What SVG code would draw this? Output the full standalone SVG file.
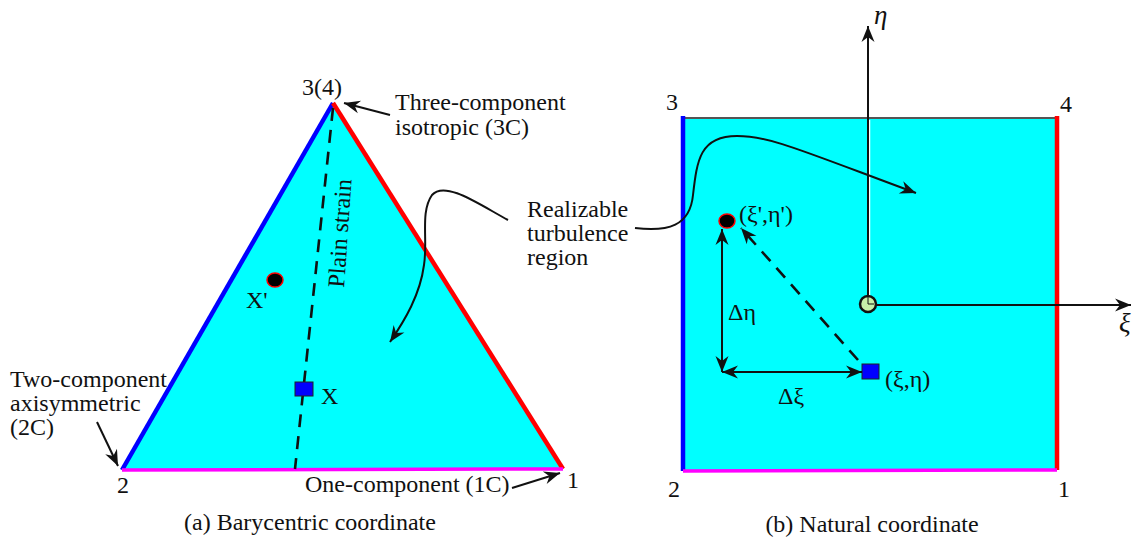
<svg xmlns="http://www.w3.org/2000/svg" width="1135" height="544" viewBox="0 0 1135 544" font-family="Liberation Serif, DejaVu Serif, serif">
<style>
text{font-family:'Liberation Serif','DejaVu Serif',serif;font-size:24px;fill:#111}
.it{font-style:italic;font-size:27px}
.ln{stroke:#111;stroke-width:2;fill:none}
.dash{stroke:#111;stroke-width:2.6;fill:none;stroke-dasharray:13 9}
</style>
<defs>
<marker id="ah" viewBox="-17 -8 19 16" refX="0" refY="0" markerWidth="19" markerHeight="16" orient="auto-start-reverse" markerUnits="userSpaceOnUse">
<path d="M0,0 L-16,-6.5 L-11,0 L-16,6.5 Z" fill="#111"/>
</marker>
</defs>
<rect width="1135" height="544" fill="#fff"/>
<g id="triangle">
<polygon points="333,103 122,470 563,469" fill="#0ff"/>
<line x1="122" y1="470" x2="333" y2="103" stroke="#0000ff" stroke-width="4.5"/>
<line x1="333" y1="103" x2="563" y2="469" stroke="#ff0000" stroke-width="4.5"/>
<line x1="122" y1="470" x2="563" y2="469" stroke="#ff00ff" stroke-width="3.5"/>
<line class="dash" x1="333" y1="108" x2="295" y2="469"/>
<text transform="translate(344,288) rotate(-86)">Plain strain</text>
<text x="302" y="95">3(4)</text>
<text x="117" y="493">2</text>
<text x="567" y="488">1</text>
</g>
<g id="point-xp">
<ellipse cx="275" cy="280" rx="8" ry="7" fill="#000" stroke="#f00" stroke-width="1.5"/>
<text x="246" y="308">X'</text>
</g>
<g id="point-x">
<rect x="295" y="382" width="18" height="14" fill="#0000ff" stroke="#222" stroke-width="1"/>
<text x="321" y="404">X</text>
</g>
<g id="label-3c">
<text x="395" y="110">Three-component</text>
<text x="395" y="135">isotropic (3C)</text>
</g>
<g id="label-2c">
<text x="10" y="387">Two-component</text>
<text x="10" y="411">axisymmetric</text>
<text x="10" y="435">(2C)</text>
</g>
<g id="label-1c">
<text x="305" y="492">One-component (1C)</text>
</g>
<g id="label-region">
<text x="527" y="217">Realizable</text>
<text x="527" y="241">turbulence</text>
<text x="527" y="265">region</text>
</g>
<g id="square">
<rect x="683" y="118" width="374" height="353" fill="#0ff"/>
<line x1="683" y1="118" x2="1057" y2="118" stroke="#555" stroke-width="2"/>
<line x1="683" y1="116" x2="683" y2="471" stroke="#0000ff" stroke-width="4.5"/>
<line x1="1057" y1="116" x2="1057" y2="470" stroke="#ff0000" stroke-width="4.5"/>
<line x1="683" y1="471" x2="1057" y2="470" stroke="#ff00ff" stroke-width="3.5"/>
<text x="666" y="110">3</text>
<text x="1060" y="112">4</text>
<text x="668" y="497">2</text>
<text x="1058" y="497">1</text>
</g>
<g id="axes">
<line x1="869.5" y1="296" x2="869.5" y2="120" stroke="#fff" stroke-width="1.5"/>
<line class="ln" x1="868" y1="296" x2="868" y2="26" marker-end="url(#ah)" stroke-width="1.8"/>
<line class="ln" x1="876" y1="305" x2="1131" y2="305" marker-end="url(#ah)" stroke-width="1.8"/>
<circle cx="868" cy="304" r="8" fill="#c6f0a8" stroke="#111" stroke-width="2.5"/>
<path d="M868,297 V304 H874" stroke="#111" stroke-width="1" fill="none"/>
<text class="it" x="874" y="24">η</text>
<text class="it" x="1119" y="332">ξ</text>
</g>
<g id="point-prime">
<ellipse cx="727" cy="221" rx="8" ry="7" fill="#000" stroke="#f00" stroke-width="1.5"/>
<text x="739" y="222">(ξ',η')</text>
</g>
<g id="point-xieta">
<rect x="862" y="364" width="17" height="15" fill="#0000ff" stroke="#222" stroke-width="1"/>
<text x="885" y="387">(ξ,η)</text>
</g>
<g id="connectors">
<line class="ln" x1="722" y1="372" x2="722" y2="229" marker-start="url(#ah)" marker-end="url(#ah)"/>
<line class="ln" x1="722" y1="372" x2="862" y2="372" marker-start="url(#ah)" marker-end="url(#ah)"/>
<line class="dash" x1="858" y1="360" x2="741" y2="228" marker-end="url(#ah)"/>
<path class="ln" d="M635,228 C668,232 690,226 693,195 C697,160 700,136 737,136 C770,136 800,150 916,193" marker-end="url(#ah)"/>
<path class="ln" d="M508,220 C480,205 445,180 432,195 C420,212 428,240 424,265 C420,295 405,320 390,342" marker-end="url(#ah)"/>
<line class="ln" x1="390" y1="115" x2="344" y2="103" marker-end="url(#ah)"/>
<line class="ln" x1="97" y1="422" x2="118" y2="466" marker-end="url(#ah)"/>
<line class="ln" x1="512" y1="488" x2="560" y2="473" marker-end="url(#ah)"/>
</g>
<g id="labels">
<text x="728" y="320">Δη</text>
<text x="778" y="404">Δξ</text>
<text x="310" y="530" text-anchor="middle">(a) Barycentric coordinate</text>
<text x="872" y="532" text-anchor="middle">(b) Natural coordinate</text>
</g>
</svg>
